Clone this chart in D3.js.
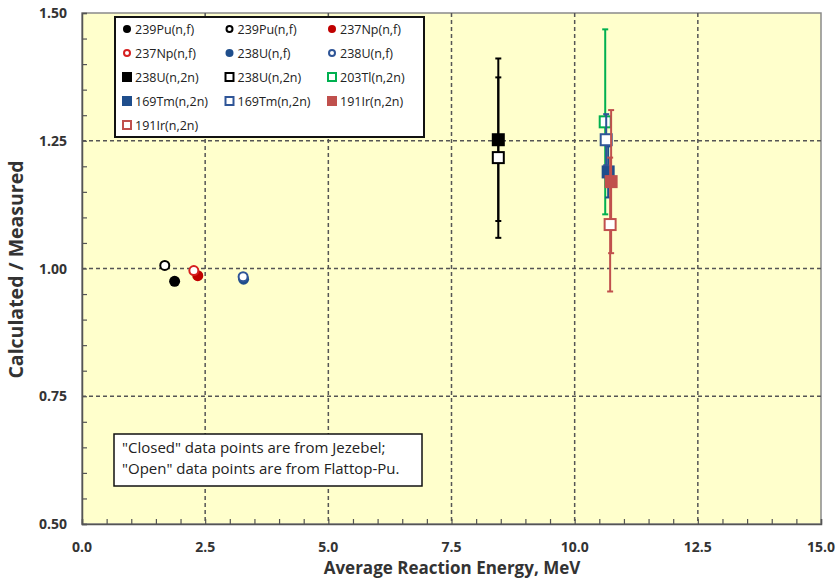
<!DOCTYPE html>
<html>
<head>
<meta charset="utf-8">
<script src="https://cdn.jsdelivr.net/npm/d3@7"></script>
<style>
  body { margin: 0; background: #fff; }
  svg text { font-family: "Open Sans", Lato, sans-serif; }
</style>
</head>
<body>
<div class="chart"></div>
<script>
// series, in legend order
var labels = ["239Pu(n,f)", "239Pu(n,f)", "237Np(n,f)", "237Np(n,f)", "238U(n,f)", "238U(n,f)",
              "238U(n,2n)", "238U(n,2n)", "203Tl(n,2n)", "169Tm(n,2n)", "169Tm(n,2n)", "191Ir(n,2n)", "191Ir(n,2n)"];
var energy = [1.88, 1.68, 2.35, 2.27, 3.28, 3.27, 8.45, 8.45, 10.62, 10.68, 10.64, 10.74, 10.72];
var ratio  = [0.975, 1.006, 0.986, 0.996, 0.979, 0.984, 1.252, 1.217, 1.287, 1.189, 1.252, 1.170, 1.086];
var uncert = [0, 0, 0, 0, 0, 0, 0.159, 0.157, 0.181, 0.05, 0.05, 0.14, 0.131];
var colors = ["#000000", "#000000", "#c00000", "#d62020", "#1f4e8c", "#2f5597",
              "#000000", "#000000", "#00b050", "#1f4e8c", "#2f5597", "#c0504d", "#c0504d"];
var filled = [true, false, true, false, true, false, true, false, false, true, false, true, false];
var shapes = ["circle", "circle", "circle", "circle", "circle", "circle",
              "square", "square", "square", "square", "square", "square", "square"];

var xTicks = [0, 2.5, 5, 7.5, 10, 12.5, 15];
var yTicks = [0.5, 0.75, 1.0, 1.25, 1.5];
var note = ["\"Closed\" data points are from Jezebel;", "\"Open\" data points are from Flattop-Pu."];

var width = 840, height = 578;
var margin = {top: 13, right: 19, bottom: 54, left: 82};

var svg = d3.select(".chart").append("svg")
    .attr("width", width)
    .attr("height", height);

var x = d3.scaleLinear().domain([0, 15]).range([margin.left, width - margin.right]);
var y = d3.scaleLinear().domain([0.5, 1.5]).range([height - margin.bottom, margin.top]);

// plot background
svg.append("rect")
    .attr("x", x(0)).attr("y", y(1.5))
    .attr("width", x(15) - x(0)).attr("height", y(0.5) - y(1.5))
    .attr("fill", "#ffffcc")
    .attr("stroke", "#8a8a8a")
    .attr("stroke-width", 1.5);

// dashed grid
svg.append("g").selectAll("line")
    .data(xTicks.slice(1, -1))
    .enter().append("line")
    .attr("x1", function(d){ return x(d); }).attr("x2", function(d){ return x(d); })
    .attr("y1", y(1.5)).attr("y2", y(0.5))
    .attr("stroke", "#555").attr("stroke-width", 1.5).attr("stroke-dasharray", "4,3");
svg.append("g").selectAll("line")
    .data(yTicks.slice(1, -1))
    .enter().append("line")
    .attr("y1", function(d){ return y(d); }).attr("y2", function(d){ return y(d); })
    .attr("x1", x(0)).attr("x2", x(15))
    .attr("stroke", "#555").attr("stroke-width", 1.5).attr("stroke-dasharray", "4,3");

// axes with inward ticks
var xAxis = svg.append("g")
    .attr("transform", "translate(0," + y(0.5) + ")")
    .call(d3.axisBottom(x).tickValues(d3.range(0, 15.01, 0.5)).tickSize(-5).tickFormat(""));
var yAxis = svg.append("g")
    .attr("transform", "translate(" + x(0) + ",0)")
    .call(d3.axisLeft(y).tickValues(d3.range(0.5, 1.501, 0.05)).tickSize(-5).tickFormat(""));
[xAxis, yAxis].forEach(function(a){
  a.selectAll("path").attr("stroke", "#555").attr("stroke-width", 1.5);
  a.selectAll("line").attr("stroke", "#555").attr("stroke-width", 1.2);
});

svg.append("g").selectAll("text")
    .data(xTicks)
    .enter().append("text")
    .attr("x", function(d){ return x(d); })
    .attr("y", 552)
    .attr("text-anchor", "middle")
    .attr("font-size", 14).attr("font-weight", "bold").attr("fill", "#333")
    .text(function(d){ return d.toFixed(1); });
svg.append("g").selectAll("text")
    .data(yTicks)
    .enter().append("text")
    .attr("x", 67)
    .attr("y", function(d){ return y(d) + 5; })
    .attr("text-anchor", "end")
    .attr("font-size", 14).attr("font-weight", "bold").attr("fill", "#333")
    .text(function(d){ return d.toFixed(2); });

svg.append("text")
    .attr("x", 452).attr("y", 574)
    .attr("text-anchor", "middle")
    .attr("font-size", 17).attr("font-weight", "bold").attr("fill", "#333")
    .text("Average Reaction Energy, MeV");
svg.append("text")
    .attr("transform", "translate(23," + (y(1.0) + 1) + ") rotate(-90)")
    .attr("text-anchor", "middle")
    .attr("font-size", 19.5).attr("font-weight", "bold").attr("fill", "#333")
    .text("Calculated / Measured");

// marker helper
function drawMarker(g, i, cx, cy, size) {
  var fill = filled[i] ? colors[i] : "#ffffff";
  if (shapes[i] == "circle") {
    g.append("circle")
      .attr("cx", cx).attr("cy", cy)
      .attr("r", filled[i] ? size / 2 : size / 2 - 1)
      .attr("fill", fill)
      .attr("stroke", colors[i])
      .attr("stroke-width", filled[i] ? 0 : 2);
  } else {
    var s = filled[i] ? size : size - 2;
    g.append("rect")
      .attr("x", cx - s / 2).attr("y", cy - s / 2)
      .attr("width", s).attr("height", s)
      .attr("fill", fill)
      .attr("stroke", colors[i])
      .attr("stroke-width", filled[i] ? 0 : 2);
  }
}

// data points with error bars
var pts = svg.append("g");
labels.forEach(function(lab, i) {
  var cx = x(energy[i]);
  if (uncert[i] > 0) {
    var top = y(ratio[i] + uncert[i]), bot = y(ratio[i] - uncert[i]);
    pts.append("line").attr("x1", cx).attr("x2", cx).attr("y1", top).attr("y2", bot)
      .attr("stroke", colors[i]).attr("stroke-width", 2);
    [top, bot].forEach(function(yy){
      pts.append("line").attr("x1", cx - 3).attr("x2", cx + 3).attr("y1", yy).attr("y2", yy)
        .attr("stroke", colors[i]).attr("stroke-width", 2);
    });
  }
  drawMarker(pts, i, cx, y(ratio[i]), shapes[i] == "circle" ? 11 : 13);
});

// legend
var legend = svg.append("g");
legend.append("rect")
    .attr("x", 115).attr("y", 17).attr("width", 309).attr("height", 120)
    .attr("fill", "#ffffff").attr("stroke", "#111").attr("stroke-width", 2);
labels.forEach(function(lab, i) {
  var lx = 127 + (i % 3) * 102.5, ly = 29 + Math.floor(i / 3) * 24;
  drawMarker(legend, i, lx, ly, shapes[i] == "circle" ? 8 : 10);
  legend.append("text")
    .attr("x", lx + 8).attr("y", ly + 5)
    .attr("font-size", 12.5).attr("fill", "#222")
    .text(lab);
});

// note box
var nb = svg.append("g");
nb.append("rect")
    .attr("x", 114).attr("y", 434).attr("width", 308).attr("height", 52)
    .attr("fill", "#ffffff").attr("stroke", "#111").attr("stroke-width", 1.5);
nb.selectAll("text")
    .data(note)
    .enter().append("text")
    .attr("x", 122)
    .attr("y", function(d, k){ return 453 + k * 21; })
    .attr("font-size", 15).attr("fill", "#222")
    .text(function(d){ return d; });
</script>
</body>
</html>
